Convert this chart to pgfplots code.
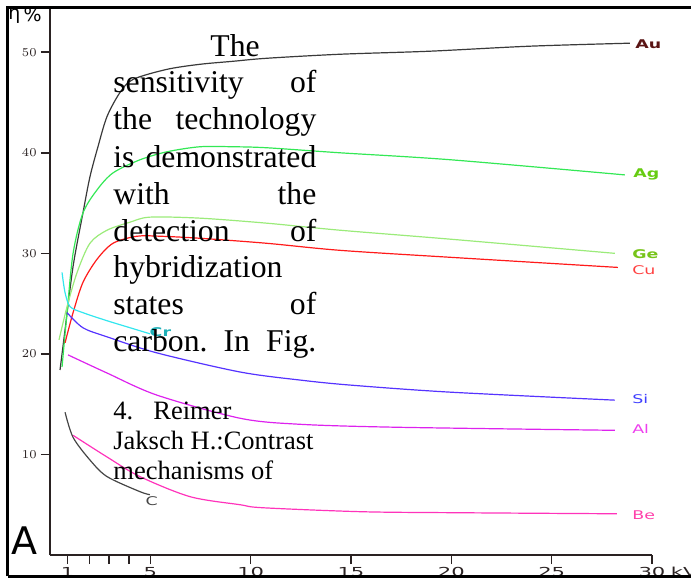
\documentclass[border=0pt]{standalone}
\usepackage{fontspec}
\setmainfont{Liberation Serif}
\newfontfamily\tickfont{DejaVu Sans}[FakeStretch=1.7]
\newfontfamily\labelfont{DejaVu Sans}[FakeStretch=1.45]
\newfontfamily\dejavu{DejaVu Sans}
\usepackage{pgfplots}
\pgfplotsset{compat=1.18}

\definecolor{axisdark}{HTML}{2A2222}
\definecolor{cAu}{HTML}{3A3A3A}
\definecolor{lAu}{HTML}{5A1414}
\definecolor{cAg}{HTML}{33E855}
\definecolor{lAg}{HTML}{66CC11}
\definecolor{cGe}{HTML}{9BEB7A}
\definecolor{lGe}{HTML}{77C41A}
\definecolor{cCu}{HTML}{FF1A1A}
\definecolor{lCu}{HTML}{FF4040}
\definecolor{cCr}{HTML}{33E6EE}
\definecolor{lCr}{HTML}{1FB0B8}
\definecolor{cSi}{HTML}{5533FF}
\definecolor{lSi}{HTML}{4040FF}
\definecolor{cAl}{HTML}{DD22EE}
\definecolor{lAl}{HTML}{EE40EE}
\definecolor{cBe}{HTML}{FF33BB}
\definecolor{lBe}{HTML}{FF40AA}
\definecolor{cC}{HTML}{454545}

% 1 px of the layout grid = 0.5pt
\newcommand{\pt}[2]{({#1*0.5pt},{(578-#2)*0.5pt})}

\begin{document}
\begin{tikzpicture}
\useasboundingbox (0,0) rectangle (345.5pt,289pt);

\begin{axis}[
  at={(25pt,11.5pt)}, anchor=south west,
  scale only axis, width=301pt, height=273.5pt,
  xmin=0, xmax=30, ymin=0, ymax=54.4,
  axis x line=bottom, axis y line=left,
  axis line style={-, line width=1pt, color=axisdark},
  tick align=outside,
  major tick length=4.5pt, minor tick length=4.5pt,
  tick style={line width=0.8pt, color=axisdark},
  xtick={0.88,5,10,15,20,25,30},
  xticklabels={1,5,10,15,20,25,30\rlap{\hspace{0.45em}kV}},
  minor xtick={1.96,2.95,3.95},
  ytick={10,20,30,40,50},
  xticklabel style={font=\tickfont\fontsize{6.2}{7}\selectfont, inner sep=0pt, anchor=north, yshift=-1.5pt, color=axisdark},
  yticklabel style={font=\tickfont\fontsize{6.4}{7}\selectfont, inner sep=0pt, anchor=east, xshift=-2pt, color=axisdark},
  clip=false,
  every axis plot/.append style={line width=0.6pt, smooth, no marks},
]
% Au
\addplot[cAu] coordinates {(0.50,18.4) (0.75,22.4) (1.15,28.7) (1.64,34.0) (1.99,37.6) (2.39,40.6) (2.84,43.6) (3.49,46.0) (4.14,47.3) (5.83,48.3) (7.47,48.8) (9.12,49.1) (10.8,49.4) (14.45,49.8) (18.9,50.1) (23.9,50.6) (28.9,50.9)};
% Ag
\addplot[cAg] coordinates {(0.6,18.7) (0.85,24.1) (1.15,30.0) (1.64,34.0) (2.34,36.3) (3.14,38.0) (4.48,39.3) (5.83,40.1) (7.47,40.6) (9.12,40.6) (10.8,40.5) (14.45,40.0) (20,39.3) (28.65,37.8)};
% Ge
\addplot[cGe] coordinates {(0.45,21.4) (0.85,24.7) (1.35,28.1) (1.99,31.0) (2.84,32.3) (3.99,33.1) (4.98,33.6) (7.47,33.5) (10.8,33.0) (14.45,32.3) (20,31.4) (28.15,30.0)};
% Cu
\addplot[cCu] coordinates {(0.75,21.1) (1.15,24.1) (1.64,27.1) (2.34,29.4) (3.14,31.0) (4.33,31.7) (5.5,31.7) (7.47,31.5) (10.8,31.0) (14.45,30.3) (20,29.6) (28.3,28.6)};
% Cr
\addplot[cCr] coordinates {(0.6,28.1) (0.75,26.1) (1.0,24.7) (1.64,24.1) (2.84,23.3) (3.99,22.6) (4.98,22.0)};
% Si
\addplot[cSi] coordinates {(0.85,24.1) (1.64,22.6) (2.84,21.7) (5.33,20.1) (9.47,18.2) (12.45,17.4) (14.95,16.9) (19.9,16.2) (28.15,15.4)};
% Al
\addplot[cAl] coordinates {(0.9,19.9) (2.84,18.1) (5.33,15.9) (9.47,13.6) (12.45,13.0) (17.4,12.7) (28.15,12.4)};
% C
\addplot[cC] coordinates {(0.75,14.2) (1.15,11.7) (1.99,9.45) (2.84,7.8) (4.48,6.3) (4.98,6.0)};
% Be
\addplot[cBe] coordinates {(1.15,11.9) (2.84,9.75) (4.48,7.8) (6.98,5.8) (9.47,5.0) (10.6,4.7) (15.6,4.3) (20.6,4.2) (28.25,4.1)};

% element names at the curve ends
\begin{scope}[every node/.style={anchor=west, inner sep=0pt, font=\labelfont\fontsize{6}{7}\selectfont}]
\node[text=lAu, font=\labelfont\bfseries\fontsize{6}{7}\selectfont] at (axis cs:29.15,50.8) {Au};
\node[text=lAg, font=\labelfont\bfseries\fontsize{6}{7}\selectfont] at (axis cs:29.05,37.8) {Ag};
\node[text=lGe, font=\labelfont\bfseries\fontsize{6}{7}\selectfont] at (axis cs:29.0,29.9) {Ge};
\node[text=lCu] at (axis cs:29.0,28.3) {Cu};
\node[text=lSi] at (axis cs:29.0,15.5) {Si};
\node[text=lAl] at (axis cs:29.0,12.5) {Al};
\node[text=lBe] at (axis cs:29.0,4.0) {Be};
\node[text=lCr, font=\labelfont\bfseries\fontsize{6}{7}\selectfont] at (axis cs:4.95,22.2) {Cr};
\node[text=cC] at (axis cs:4.75,5.4) {C};
\end{scope}
\end{axis}

% quantity symbol and panel letter
\node[anchor=base west, inner sep=0pt, font=\dejavu\fontsize{9.5}{10}\selectfont] at \pt{8}{22} {\raisebox{1pt}{η}\,\%};
\node[anchor=base west, inner sep=0pt, font=\dejavu\fontsize{19}{20}\selectfont] at \pt{11}{555} {A};

% running text set over the figure
\begin{scope}[every node/.style={anchor=base west, inner sep=0pt, font=\fontsize{15.85}{18}\selectfont}]
\node at \pt{210}{57} {The};
\node at \pt{113}{93} {\hbox to 101.5pt{sensitivity\hfill of}};
\node at \pt{113}{130} {\hbox to 101.5pt{the\hfill technology}};
\node at \pt{113}{168} {\hbox to 101.5pt{is\hfill demonstrated}};
\node at \pt{113}{205} {\hbox to 101.5pt{with\hfill the}};
\node at \pt{113}{242} {\hbox to 101.5pt{detection\hfill of}};
\node at \pt{113}{278} {hybridization};
\node at \pt{113}{315} {\hbox to 101.5pt{states\hfill of}};
\node at \pt{113}{352} {\hbox to 101.5pt{carbon.\hfill In\hfill Fig.}};
\end{scope}
\begin{scope}[every node/.style={anchor=base west, inner sep=0pt, font=\fontsize{13.25}{15}\selectfont}]
\node at \pt{113}{420} {\makebox[20pt][l]{4.}Reimer};
\node at \pt{113}{450} {Jaksch H.:Contrast};
\node at \pt{113}{480} {mechanisms of};
\end{scope}

% outer frame
\draw[line width=1.5pt, black] \pt{7.5}{576.5} -- \pt{7.5}{8} -- \pt{720}{8};
\draw[line width=1.5pt, black] \pt{7.5}{576.5} -- \pt{720}{576.5};
\end{tikzpicture}
\end{document}
